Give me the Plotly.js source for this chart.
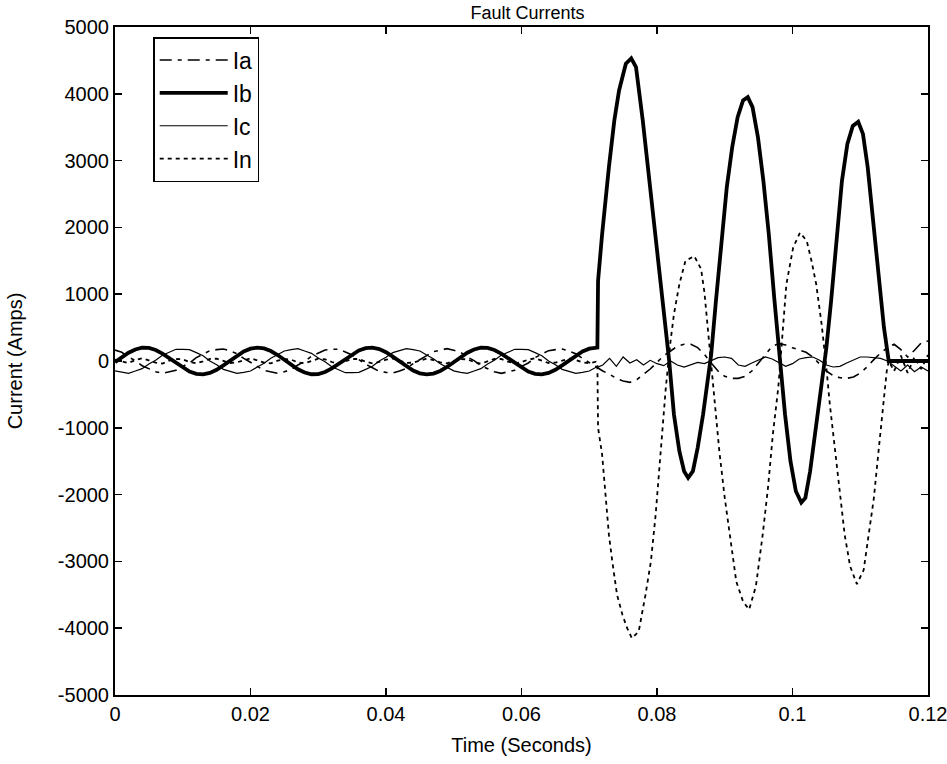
<!DOCTYPE html>
<html>
<head>
<meta charset="utf-8">
<script src="https://cdn.plot.ly/plotly-3.0.1.min.js"></script>
<style>html,body{margin:0;padding:0;background:#fff;}#chart{width:947px;height:764px;}</style>
</head>
<body>
<div id="chart"></div>
<script>
// ---- Data (time in milliseconds, current in amps) ----
// Pre-fault samples, shared time base 0..71 ms
const timePreMs = [0,1,2,3,4,5,6,7,8,9,10,11,12,13,14,15,16,17,18,19,20,21,22,23,24,25,26,27,28,29,30,31,32,33,34,35,36,37,38,39,40,41,42,43,44,45,46,47,48,49,50,51,52,53,54,55,56,57,58,59,60,61,62,63,64,65,66,67,68,69,70,71];

const iaPre = [163,130,60,5,-70,-118,-160,-185,-165,-140,-80,-30,50,100,155,170,180,150,110,40,-25,-80,-140,-165,-185,-160,-130,-60,-5,70,118,165,175,175,135,90,20,-50,-100,-155,-170,-180,-150,-110,-40,25,80,140,165,185,160,130,60,5,-70,-118,-160,-185,-165,-140,-80,-30,50,100,155,170,180,150,110,40,-25,-80];
const ibPre = [-17,57,124,173,198,195,165,111,42,-33,-103,-159,-192,-199,-178,-131,-66,8,81,142,184,200,188,149,90,17,-57,-124,-173,-198,-195,-165,-111,-42,33,103,159,192,199,178,131,66,-8,-81,-142,-184,-200,-188,-149,-90,-17,57,124,173,198,195,165,111,42,-33,-103,-159,-192,-199,-178,-131,-66,8,81,142,184,200];
const icPre = [-148,-170,-185,-150,-115,-45,10,85,130,175,175,170,125,80,0,-55,-125,-155,-185,-170,-150,-90,-35,40,95,150,170,185,150,115,45,-10,-85,-130,-175,-175,-170,-125,-80,0,55,125,155,185,170,150,90,35,-40,-95,-148,-170,-185,-150,-115,-45,10,85,130,175,175,170,125,80,0,-55,-125,-155,-185,-170,-150,-94];
const inPre = [20,-10,-30,15,40,10,-25,-40,5,30,25,-15,-35,-5,30,35,0,-30,-20,15,40,10,-25,-35,5,30,20,-20,-35,0,35,25,-15,-40,-5,30,30,-10,-35,-15,20,40,5,-30,-25,10,35,15,-20,-35,0,30,25,-15,-40,-5,30,30,-10,-35,-15,20,40,5,-30,-25,10,35,15,-20,-35,-10];

// Post-fault samples
const timePostAcMs = [71.2,72,73,74,75,76,77,78,79,80,81,82,83,84,85,86,87,88,89,90,91,92,93,94,95,96,97,98,99,100,101,102,103,104,105,106,107,108,109,110,111,112,113,114,115,116,117,118,119,120];
const iaPost = [-90,-150,-200,-260,-300,-320,-280,-200,-120,-20,80,150,220,250,250,200,100,-30,-150,-230,-260,-260,-230,-150,-30,100,220,260,240,200,170,130,60,-50,-150,-220,-250,-260,-240,-180,-90,20,120,200,250,170,60,160,270,300];
const icPost = [-94,-60,40,-80,60,-30,20,-60,10,-40,-70,0,-60,-90,-60,-20,-40,0,50,60,40,-60,-80,-30,20,60,30,-20,-80,-40,30,50,60,10,-60,-90,-80,-30,20,60,60,50,40,0,-80,-150,-60,-160,-90,-150];

const timePostIbMs = [71.2,71.3,71.9,72.9,73.7,74.4,75.4,76.2,76.9,77.9,78.9,79.9,80.9,81.8,82.5,83.3,84.0,84.6,85.3,86.0,86.8,87.5,88.0,88.7,89.5,90.3,91.1,91.9,92.7,93.4,94.1,94.9,95.7,96.5,97.3,98.1,98.9,99.7,100.5,101.3,101.9,102.6,103.4,104.2,105.0,105.7,106.5,107.3,108.1,108.9,109.7,110.4,111.1,111.9,112.7,113.5,114.2,120];
const ibPost = [200,1200,1900,2900,3600,4050,4450,4530,4400,3600,2650,1800,850,0,-800,-1350,-1650,-1750,-1650,-1300,-800,-300,100,900,1800,2600,3200,3650,3900,3950,3800,3350,2700,1900,950,0,-800,-1500,-1950,-2120,-2050,-1650,-1000,-350,200,900,1800,2700,3250,3520,3580,3400,2900,2100,1300,500,0,0];

const timePostInMs = [71.2,71.3,71.9,72.4,72.9,73.4,74.1,74.9,75.6,76.3,77.3,78.3,79.1,79.8,80.3,80.8,81.3,82.0,82.5,83.3,84.2,85.5,86.5,87.0,87.5,88.0,88.5,89.2,90.0,90.7,91.7,92.7,93.6,94.6,95.6,96.4,97.1,97.9,98.6,99.1,100.1,101.1,102.1,102.8,103.5,104.3,105.0,105.5,106.3,107.0,107.7,108.5,109.5,110.5,111.2,112.0,112.7,113.4,113.9,114.2,115,116,117,118,119,120];
const inPost = [-30,-1000,-1400,-2000,-2600,-3000,-3500,-3800,-4000,-4150,-4050,-3500,-3000,-2300,-1700,-1100,-400,300,700,1150,1500,1570,1380,1030,500,-100,-640,-1350,-2050,-2600,-3300,-3600,-3720,-3370,-2600,-1880,-1100,-400,500,1150,1700,1920,1800,1500,1150,550,-100,-640,-1350,-2000,-2600,-3070,-3340,-3130,-2650,-2060,-1350,-640,-160,0,-150,80,-180,60,-120,90];

const seriesNames = ['Ia','Ib','Ic','In'];
const yTickVals = [5000,4000,3000,2000,1000,0,-1000,-2000,-3000,-4000,-5000];
const yTickText = ['5000','4000','3000','2000','1000','0','-1000','-2000','-3000','-4000','-5000'];
const xTickVals = [0,0.02,0.04,0.06,0.08,0.1,0.12];
const xTickText = ['0','0.02','0.04','0.06','0.08','0.1','0.12'];

// ---- Build traces ----
const toSec = arr => arr.map(v => v / 1000);
const FONT = 'Liberation Sans, Arial, sans-serif';

const traces = [
  {name: seriesNames[0], x: toSec(timePreMs.concat(timePostAcMs)), y: iaPre.concat(iaPost),
   mode: 'lines', line: {color: '#000', width: 1.6, dash: '12px,6px,4px,6px'}},
  {name: seriesNames[1], x: toSec(timePreMs.concat(timePostIbMs)), y: ibPre.concat(ibPost),
   mode: 'lines', line: {color: '#000', width: 3.8}},
  {name: seriesNames[2], x: toSec(timePreMs.concat(timePostAcMs)), y: icPre.concat(icPost),
   mode: 'lines', line: {color: '#000', width: 1.2}},
  {name: seriesNames[3], x: toSec(timePreMs.concat(timePostInMs)), y: inPre.concat(inPost),
   mode: 'lines', line: {color: '#000', width: 1.8, dash: '4px,4px'}}
];

const layout = {
  width: 947, height: 764,
  paper_bgcolor: '#fff', plot_bgcolor: '#fff',
  margin: {l: 115, r: 19, t: 27, b: 69},
  font: {family: FONT, color: '#000', size: 18},
  title: {text: 'Fault Currents', x: 0.557, xanchor: 'center', y: 0.984, yanchor: 'middle',
          font: {family: FONT, size: 18, color: '#000'}},
  showlegend: true,
  legend: {x: 0.047, y: 0.985, xanchor: 'left', yanchor: 'top',
           bgcolor: '#fff', bordercolor: '#000', borderwidth: 1.5,
           itemwidth: 68,
           font: {family: FONT, size: 23, color: '#000'}, tracegroupgap: 0},
  xaxis: {
    range: [0, 0.12], tickvals: xTickVals, ticktext: xTickText,
    ticks: 'inside', ticklen: 7, tickwidth: 1.5, tickcolor: '#000',
    showline: true, linecolor: '#000', linewidth: 2, mirror: 'ticks',
    showgrid: false, zeroline: false, ticklabeloverflow: 'allow',
    tickfont: {family: FONT, size: 20, color: '#000'},
    title: {text: 'Time (Seconds)', font: {family: FONT, size: 20, color: '#000'}, standoff: 14}
  },
  yaxis: {
    range: [-5000, 5000], tickvals: yTickVals, ticktext: yTickText,
    ticks: 'inside', ticklen: 7, tickwidth: 1.5, tickcolor: '#000',
    showline: true, linecolor: '#000', linewidth: 2, mirror: 'ticks',
    showgrid: false, zeroline: false, ticklabeloverflow: 'allow',
    tickfont: {family: FONT, size: 20, color: '#000'},
    title: {text: 'Current (Amps)', font: {family: FONT, size: 20, color: '#000'}, standoff: 30}
  }
};

Plotly.newPlot('chart', traces, layout, {staticPlot: true, displayModeBar: false});
</script>
</body>
</html>
